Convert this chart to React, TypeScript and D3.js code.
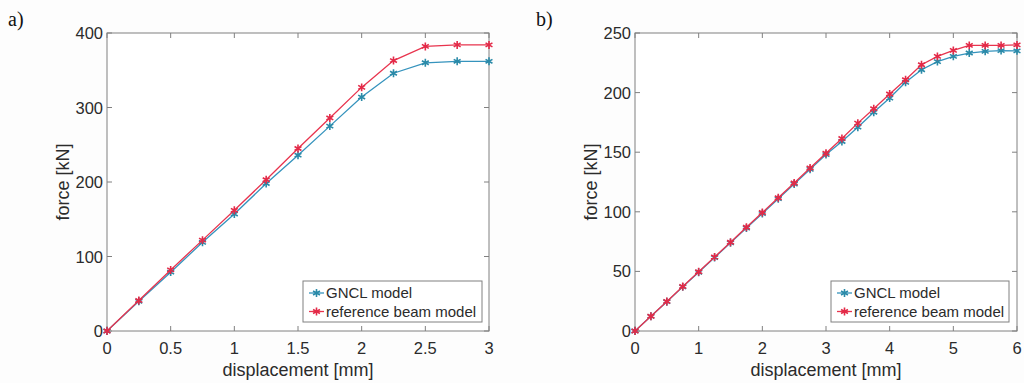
import * as d3 from "d3";

// panel a) – displacement 0..3 mm
const dispA = [0, 0.25, 0.5, 0.75, 1, 1.25, 1.5, 1.75, 2, 2.25, 2.5, 2.75, 3];
const gnclA = [0, 40, 79, 119, 157, 198, 236, 275, 314, 346, 360, 362, 362];
const refA = [0, 41, 82, 122, 162, 203, 245, 286, 327, 363, 382, 384, 384];
const xTicksA = [0, 0.5, 1, 1.5, 2, 2.5, 3];
const yTicksA = [0, 100, 200, 300, 400];

// panel b) – displacement 0..6 mm
const dispB = [
  0, 0.25, 0.5, 0.75, 1, 1.25, 1.5, 1.75, 2, 2.25, 2.5, 2.75, 3, 3.25, 3.5,
  3.75, 4, 4.25, 4.5, 4.75, 5, 5.25, 5.5, 5.75, 6,
];
const gnclB = [
  0, 12.3, 24.6, 37, 49.3, 61.6, 74, 86.3, 98.6, 111, 123.3, 135.6, 148, 159,
  171, 183.5, 195.4, 208.6, 219.2, 226, 230.4, 233.2, 234.6, 235.2, 235,
];
const refB = [
  0, 12.4, 24.8, 37.3, 49.7, 62.1, 74.5, 87, 99.4, 111.8, 124.2, 136.7, 149.1,
  161.5, 174.4, 186.5, 198.8, 210.8, 223.4, 230.4, 235.4, 239.6, 239.6, 239.6,
  240,
];
const xTicksB = [0, 1, 2, 3, 4, 5, 6];
const yTicksB = [0, 50, 100, 150, 200, 250];

const seriesNames = ["GNCL model", "reference beam model"];
const seriesColors = ["#3593bd", "#e8344e"];
const markerColors = ["#2a8aa8", "#e32a48"];

const font = "'Liberation Sans', Arial, sans-serif";
const textColor = "#2b2b2b";
const boxColor = "#808080";

interface PanelProps {
  label: string;
  left: number;
  right: number;
  top: number;
  bottom: number;
  xMax: number;
  yMax: number;
  xTicks: number[];
  yTicks: number[];
  xs: number[];
  series: number[][];
  legendX: number;
  legendW: number;
}

const star = d3.symbol(d3.symbolAsterisk, 44)();

const Panel = ({
  label,
  left,
  right,
  top,
  bottom,
  xMax,
  yMax,
  xTicks,
  yTicks,
  xs,
  series,
  legendX,
  legendW,
}: PanelProps) => {
  const x = d3.scaleLinear().domain([0, xMax]).range([left, right]);
  const y = d3.scaleLinear().domain([0, yMax]).range([bottom, top]);
  const line = d3
    .line<number>()
    .x((_, i) => x(xs[i]))
    .y((d) => y(d));
  const tick = 5;
  const legendTop = 281;
  const legendH = 41;

  return (
    <g>
      <text
        x={left - 99}
        y={26}
        fontFamily="'Liberation Serif', 'Times New Roman', serif"
        fontSize={20}
        fill="#111"
      >
        {label}
      </text>
      <rect
        x={left}
        y={top}
        width={right - left}
        height={bottom - top}
        fill="#fff"
        stroke={boxColor}
        strokeWidth={1}
      />
      {xTicks.map((t) => (
        <g key={"x" + t}>
          <line x1={x(t)} x2={x(t)} y1={bottom} y2={bottom - tick} stroke={boxColor} />
          <line x1={x(t)} x2={x(t)} y1={top} y2={top + tick} stroke={boxColor} />
          <text
            x={x(t)}
            y={354}
            textAnchor="middle"
            fontFamily={font}
            fontSize={16.5}
            fill={textColor}
          >
            {t}
          </text>
        </g>
      ))}
      {yTicks.map((t) => (
        <g key={"y" + t}>
          <line x1={left} x2={left + tick} y1={y(t)} y2={y(t)} stroke={boxColor} />
          <line x1={right} x2={right - tick} y1={y(t)} y2={y(t)} stroke={boxColor} />
          <text
            x={left - 4}
            y={y(t) + 6}
            textAnchor="end"
            fontFamily={font}
            fontSize={16.5}
            fill={textColor}
          >
            {t}
          </text>
        </g>
      ))}
      <text
        x={(left + right) / 2}
        y={376}
        textAnchor="middle"
        fontFamily={font}
        fontSize={18}
        fill={textColor}
      >
        displacement [mm]
      </text>
      <text
        transform={`translate(${left - 38},${(top + bottom) / 2}) rotate(-90)`}
        textAnchor="middle"
        fontFamily={font}
        fontSize={18}
        fill={textColor}
      >
        force [kN]
      </text>
      {series.map((s, k) => (
        <g key={"s" + k}>
          <path d={line(s)!} fill="none" stroke={seriesColors[k]} strokeWidth={1.3} />
          {s.map((v, i) => (
            <path
              key={i}
              d={star!}
              transform={`translate(${x(xs[i])},${y(v)})`}
              fill="none"
              stroke={markerColors[k]}
              strokeWidth={1.6}
            />
          ))}
        </g>
      ))}
      <rect
        x={legendX}
        y={legendTop}
        width={legendW}
        height={legendH}
        fill="#fff"
        stroke={boxColor}
        strokeWidth={1}
      />
      {seriesNames.map((name, k) => {
        const ry = legendTop + 12 + k * 18.5;
        return (
          <g key={"l" + k}>
            <line
              x1={legendX + 6}
              x2={legendX + 21}
              y1={ry}
              y2={ry}
              stroke={seriesColors[k]}
              strokeWidth={1.3}
            />
            <path
              d={star!}
              transform={`translate(${legendX + 13.5},${ry})`}
              fill="none"
              stroke={markerColors[k]}
              strokeWidth={1.6}
            />
            <text
              x={legendX + 23}
              y={ry + 5}
              fontFamily={font}
              fontSize={15}
              fill={textColor}
            >
              {name}
            </text>
          </g>
        );
      })}
    </g>
  );
};

export default function App() {
  return (
    <svg
      width={1024}
      height={383}
      style={{ position: "absolute", left: 0, top: 0, background: "#fdfdfd" }}
    >
      <Panel
        label="a)"
        left={107}
        right={489}
        top={33}
        bottom={331}
        xMax={3}
        yMax={400}
        xTicks={xTicksA}
        yTicks={yTicksA}
        xs={dispA}
        series={[gnclA, refA]}
        legendX={303}
        legendW={179}
      />
      <Panel
        label="b)"
        left={635}
        right={1017}
        top={33}
        bottom={331}
        xMax={6}
        yMax={250}
        xTicks={xTicksB}
        yTicks={yTicksB}
        xs={dispB}
        series={[gnclB, refB]}
        legendX={831}
        legendW={178}
      />
    </svg>
  );
}
